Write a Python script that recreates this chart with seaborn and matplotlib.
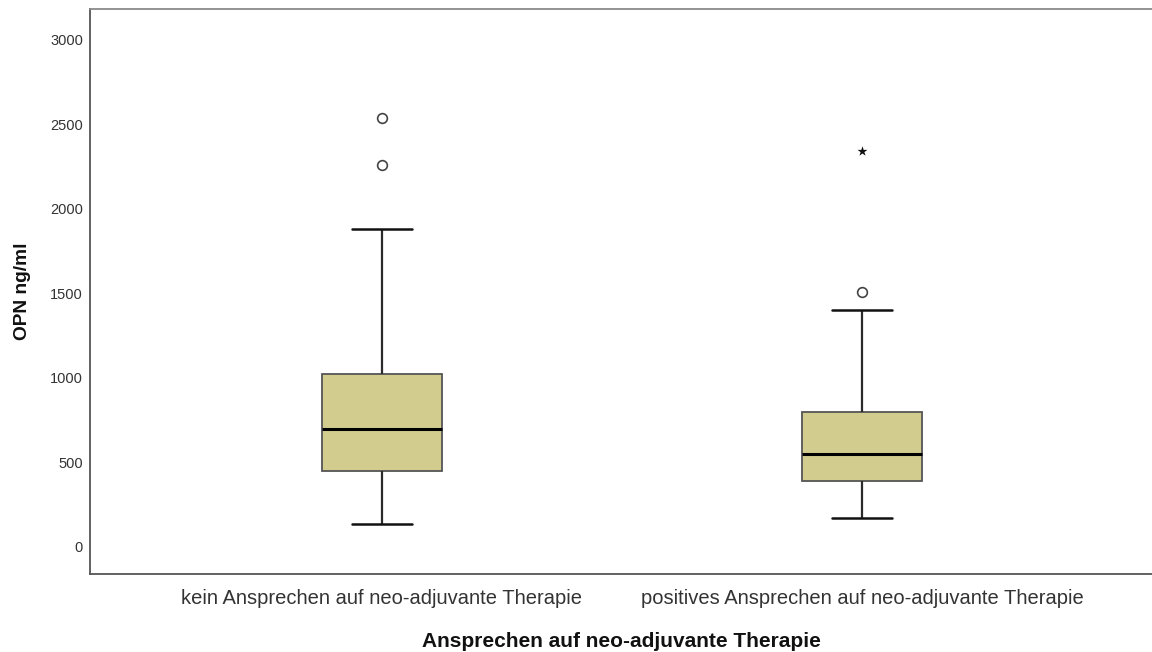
import numpy as np
import pandas as pd
import matplotlib
matplotlib.use("Agg")
import matplotlib.pyplot as plt
import seaborn as sns

# ---- data ----
categories = ["kein Ansprechen auf neo-adjuvante Therapie",
              "positives Ansprechen auf neo-adjuvante Therapie"]
whisker_low = [135, 172]
q1 = [450, 388]
median = [695, 548]
q3 = [1020, 800]
whisker_high = [1880, 1402]
outlier_group = [0, 0, 1]
outlier_value = [2535, 2258, 1508]
extreme_group = [1]
extreme_value = [2338]
y_ticks = [0, 500, 1000, 1500, 2000, 2500, 3000]

# five-number summaries as long-form table (percentiles of 5 values reproduce them exactly)
rows = []
for i, c in enumerate(categories):
    for v in (whisker_low[i], q1[i], median[i], q3[i], whisker_high[i]):
        rows.append({"group": c, "OPN": v})
df = pd.DataFrame(rows)
df_out = pd.DataFrame({"group": [categories[g] for g in outlier_group], "OPN": outlier_value})
df_ext = pd.DataFrame({"group": [categories[g] for g in extreme_group], "OPN": extreme_value})

sns.set_theme(style="white")
plt.rcParams["font.family"] = ["Liberation Sans", "DejaVu Sans"]

fig = plt.figure(figsize=(11.52, 6.52), dpi=100)
ax = fig.add_axes([90 / 1152, 1 - 574 / 652, 1062 / 1152, 565 / 652])

edge = "#2b2b2b"
sns.boxplot(data=df, x="group", y="OPN", order=categories, ax=ax,
            whis=(0, 100), width=0.25, color="#D2CC8F", showfliers=False,
            linecolor=edge, linewidth=1.3, saturation=1,
            boxprops=dict(facecolor="#D2CC8F", edgecolor="#555555", linewidth=1.3),
            whiskerprops=dict(color=edge, linewidth=1.6),
            capprops=dict(color="#111111", linewidth=1.8),
            medianprops=dict(color="#000000", linewidth=2.2))

sns.stripplot(data=df_out, x="group", y="OPN", order=categories, ax=ax,
              jitter=False, marker="o", size=7, color="white",
              edgecolor="#444444", linewidth=1.2, zorder=5)
sns.stripplot(data=df_ext, x="group", y="OPN", order=categories, ax=ax,
              jitter=False, marker="*", size=7.5, color="#111111",
              edgecolor="#111111", linewidth=0, zorder=5)

ax.set_xlim(-0.608, 1.604)
ax.set_ylim(-160, 3180)
ax.set_yticks(y_ticks)
ax.set_yticklabels([str(t) for t in y_ticks], fontsize=10.5, color="#333333")
ax.tick_params(axis="x", labelsize=14.5, colors="#333333", length=0, pad=11)
ax.tick_params(axis="y", length=0, pad=5)
ax.set_xlabel("Ansprechen auf neo-adjuvante Therapie", fontsize=15, fontweight="bold",
              color="#111111", labelpad=17)
ax.set_ylabel("OPN ng/ml", fontsize=13.8, fontweight="bold", color="#111111", labelpad=14)

for name, s in ax.spines.items():
    s.set_visible(True)
    s.set_linewidth(1.3)
    s.set_color("#555555")
ax.spines["top"].set_color("#8a8a8a")
ax.spines["right"].set_visible(False)

fig.savefig("out.png", dpi=100)
